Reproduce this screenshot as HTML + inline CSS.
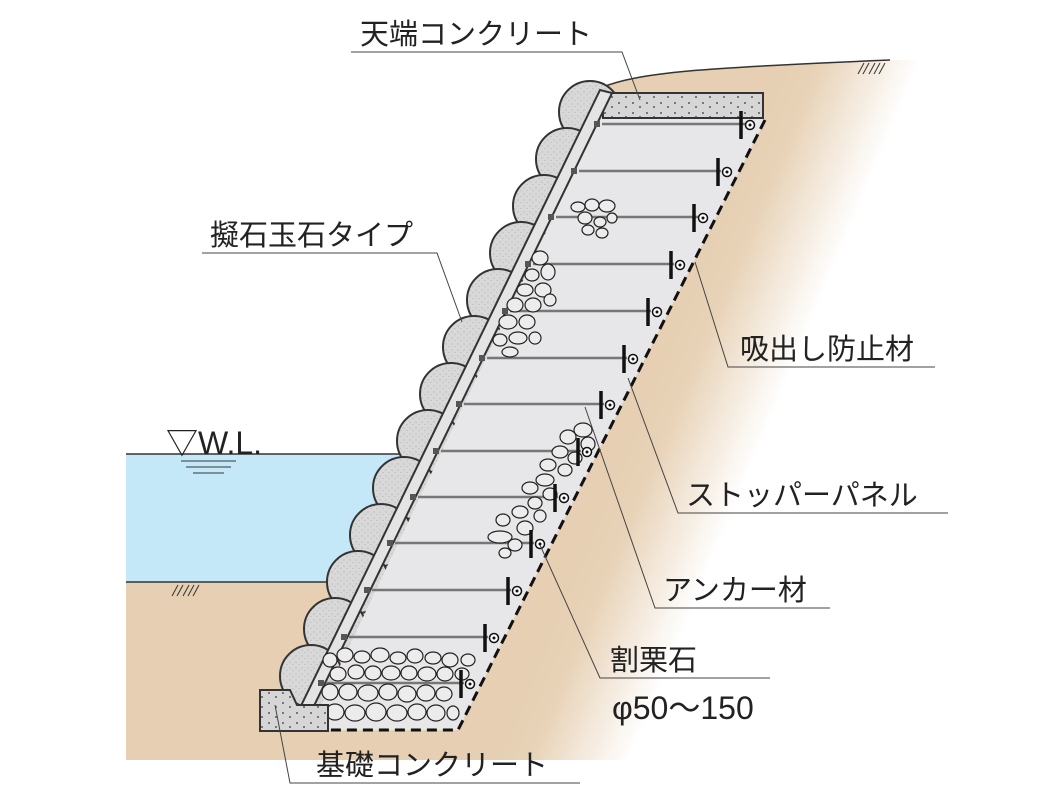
<!DOCTYPE html>
<html><head><meta charset="utf-8"><style>
html,body{margin:0;padding:0;background:#fff;}
svg{display:block;}
text{font-family:"Liberation Sans","Noto Sans CJK JP",sans-serif;fill:#222;}
</style></head><body>
<svg width="1061" height="805" viewBox="0 0 1061 805" xmlns="http://www.w3.org/2000/svg">
<defs>
<linearGradient id="soil" gradientUnits="userSpaceOnUse" x1="650" y1="373" x2="770" y2="423">
<stop offset="0" stop-color="#e6cfb2"/><stop offset="0.3" stop-color="#e8d3b8"/><stop offset="1" stop-color="#ffffff"/>
</linearGradient>
<pattern id="dots" width="14" height="10" patternUnits="userSpaceOnUse">
<rect width="14" height="10" fill="#d6d6d6"/>
<circle cx="3" cy="3" r="0.9" fill="#333"/><circle cx="10" cy="7" r="0.9" fill="#333"/>
</pattern>
<pattern id="spk" width="6" height="6" patternUnits="userSpaceOnUse">
<rect width="6" height="6" fill="#d8d8d8"/><circle cx="2" cy="2" r="0.5" fill="#999"/><circle cx="5" cy="4.5" r="0.5" fill="#aaa"/>
</pattern>
</defs>
<path d="M126,582 L420,582 L600,88 C640,72 700,68 890,60 L1061,60 L1061,760 L126,760 Z" fill="url(#soil)"/>
<path d="M600,88 C640,72 700,68 890,60" fill="none" stroke="#333" stroke-width="1.5"/>
<rect x="126" y="454" width="300" height="128" fill="#c5e8f8"/>
<line x1="126" y1="454" x2="420" y2="454" stroke="#333" stroke-width="1.5"/>
<line x1="126" y1="582" x2="330" y2="582" stroke="#333" stroke-width="1.5"/>
<line x1="181" y1="461" x2="236" y2="461" stroke="#333" stroke-width="1"/>
<line x1="186" y1="467" x2="231" y2="467" stroke="#333" stroke-width="1"/>
<line x1="193" y1="473" x2="224" y2="473" stroke="#333" stroke-width="1"/>
<g stroke="#333" stroke-width="1">
<line x1="172" y1="596" x2="178" y2="585"/><line x1="177" y1="596" x2="183" y2="585"/><line x1="183" y1="596" x2="189" y2="585"/><line x1="188" y1="596" x2="194" y2="585"/><line x1="193" y1="596" x2="199" y2="585"/>
<line x1="858" y1="74" x2="864" y2="63"/><line x1="863" y1="74" x2="869" y2="63"/><line x1="869" y1="74" x2="875" y2="63"/><line x1="874" y1="74" x2="880" y2="63"/><line x1="879" y1="74" x2="885" y2="63"/>
</g>
<text x="166" y="454" font-size="32">▽W.L.</text>
<g fill="url(#spk)" stroke="#333" stroke-width="2">
<circle cx="590" cy="112" r="31"/><circle cx="567" cy="159" r="31"/><circle cx="544" cy="206" r="31"/><circle cx="521" cy="253" r="31"/><circle cx="498" cy="300" r="31"/><circle cx="474" cy="347" r="31"/><circle cx="451" cy="394" r="31"/><circle cx="428" cy="441" r="31"/><circle cx="404" cy="488" r="31"/><circle cx="381" cy="535" r="31"/><circle cx="358" cy="582" r="31"/><circle cx="335" cy="629" r="31"/><circle cx="311" cy="676" r="31"/>
</g>
<polygon points="612,93 765,120 458,730 310,730 318,712" fill="#e7e7e9"/>
<rect x="603" y="93" width="160" height="25" fill="url(#dots)" stroke="#333" stroke-width="2"/>
<polygon points="600,90 612,93 310,714 298,712" fill="#e4e4e4" stroke="#333" stroke-width="2"/>
<g stroke="#777" stroke-width="2.5">
<line x1="602" y1="124" x2="745" y2="124"/><line x1="579" y1="171" x2="721" y2="171"/><line x1="556" y1="217" x2="698" y2="217"/><line x1="533" y1="264" x2="674" y2="264"/><line x1="510" y1="311" x2="651" y2="311"/><line x1="487" y1="358" x2="627" y2="358"/><line x1="464" y1="404" x2="604" y2="404"/><line x1="441" y1="451" x2="581" y2="451"/><line x1="418" y1="497" x2="558" y2="497"/><line x1="395" y1="543" x2="534" y2="543"/><line x1="372" y1="590" x2="511" y2="590"/><line x1="349" y1="637" x2="488" y2="637"/><line x1="326" y1="683" x2="464" y2="683"/>
</g>
<g fill="#ececec" stroke="#222" stroke-width="1.2">
<ellipse cx="578" cy="207" rx="7" ry="5"/><ellipse cx="592" cy="205" rx="7" ry="6"/><ellipse cx="607" cy="206" rx="8" ry="6"/><ellipse cx="585" cy="218" rx="7" ry="6"/><ellipse cx="600" cy="222" rx="6" ry="5"/><ellipse cx="612" cy="218" rx="5" ry="5"/><ellipse cx="588" cy="230" rx="6" ry="5"/><ellipse cx="602" cy="233" rx="6" ry="5"/>
<ellipse cx="540" cy="258" rx="8" ry="7"/><ellipse cx="548" cy="272" rx="7" ry="8"/><ellipse cx="532" cy="275" rx="7" ry="6"/><ellipse cx="525" cy="290" rx="8" ry="6"/><ellipse cx="543" cy="290" rx="8" ry="7"/><ellipse cx="515" cy="305" rx="8" ry="7"/><ellipse cx="533" cy="305" rx="8" ry="7"/><ellipse cx="550" cy="300" rx="6" ry="6"/><ellipse cx="508" cy="322" rx="9" ry="7"/><ellipse cx="527" cy="322" rx="8" ry="7"/><ellipse cx="518" cy="338" rx="9" ry="6"/><ellipse cx="500" cy="340" rx="7" ry="6"/><ellipse cx="535" cy="338" rx="6" ry="6"/><ellipse cx="510" cy="352" rx="8" ry="5"/>
<ellipse cx="583" cy="430" rx="9" ry="7"/><ellipse cx="568" cy="437" rx="8" ry="7"/><ellipse cx="588" cy="444" rx="7" ry="7"/><ellipse cx="560" cy="452" rx="8" ry="6"/><ellipse cx="575" cy="458" rx="7" ry="6"/><ellipse cx="548" cy="465" rx="8" ry="6"/><ellipse cx="565" cy="470" rx="7" ry="6"/><ellipse cx="545" cy="480" rx="9" ry="6"/><ellipse cx="530" cy="488" rx="8" ry="6"/><ellipse cx="550" cy="494" rx="7" ry="6"/><ellipse cx="535" cy="503" rx="7" ry="6"/><ellipse cx="520" cy="512" rx="8" ry="6"/><ellipse cx="540" cy="516" rx="6" ry="6"/><ellipse cx="503" cy="520" rx="7" ry="6"/><ellipse cx="525" cy="528" rx="8" ry="7"/><ellipse cx="500" cy="537" rx="12" ry="6"/><ellipse cx="515" cy="545" rx="7" ry="6"/><ellipse cx="505" cy="553" rx="6" ry="5"/>
<ellipse cx="330" cy="660" rx="7" ry="7"/><ellipse cx="345" cy="655" rx="8" ry="7"/><ellipse cx="362" cy="657" rx="8" ry="6"/><ellipse cx="380" cy="655" rx="9" ry="7"/><ellipse cx="398" cy="658" rx="8" ry="6"/><ellipse cx="415" cy="656" rx="8" ry="7"/><ellipse cx="433" cy="658" rx="8" ry="6"/><ellipse cx="450" cy="660" rx="8" ry="7"/><ellipse cx="468" cy="660" rx="7" ry="6"/>
<ellipse cx="338" cy="674" rx="8" ry="7"/><ellipse cx="356" cy="672" rx="8" ry="7"/><ellipse cx="373" cy="673" rx="8" ry="7"/><ellipse cx="391" cy="673" rx="9" ry="7"/><ellipse cx="409" cy="673" rx="8" ry="7"/><ellipse cx="427" cy="674" rx="9" ry="7"/><ellipse cx="445" cy="674" rx="8" ry="7"/><ellipse cx="462" cy="674" rx="7" ry="6"/>
<ellipse cx="330" cy="692" rx="8" ry="8"/><ellipse cx="348" cy="692" rx="9" ry="8"/><ellipse cx="368" cy="693" rx="10" ry="8"/><ellipse cx="388" cy="692" rx="9" ry="8"/><ellipse cx="407" cy="694" rx="9" ry="8"/><ellipse cx="426" cy="693" rx="9" ry="8"/><ellipse cx="444" cy="694" rx="8" ry="7"/>
<ellipse cx="335" cy="712" rx="9" ry="8"/><ellipse cx="355" cy="713" rx="10" ry="8"/><ellipse cx="376" cy="712" rx="10" ry="9"/><ellipse cx="397" cy="713" rx="10" ry="8"/><ellipse cx="417" cy="712" rx="9" ry="8"/><ellipse cx="436" cy="713" rx="9" ry="8"/><ellipse cx="453" cy="713" rx="6" ry="7"/>
</g>
<g fill="#555">
<rect x="594" y="121" width="6" height="6"/><rect x="571" y="168" width="6" height="6"/><rect x="548" y="214" width="6" height="6"/><rect x="525" y="261" width="6" height="6"/><rect x="502" y="308" width="6" height="6"/><rect x="479" y="355" width="6" height="6"/><rect x="456" y="401" width="6" height="6"/><rect x="433" y="448" width="6" height="6"/><rect x="410" y="494" width="6" height="6"/><rect x="387" y="540" width="6" height="6"/><rect x="364" y="587" width="6" height="6"/><rect x="341" y="634" width="6" height="6"/><rect x="318" y="680" width="6" height="6"/>
</g>
<g stroke="#111" stroke-width="3.5">
<line x1="741" y1="111" x2="741" y2="139"/><line x1="718" y1="158" x2="718" y2="186"/><line x1="694" y1="204" x2="694" y2="232"/><line x1="671" y1="251" x2="671" y2="279"/><line x1="648" y1="298" x2="648" y2="326"/><line x1="624" y1="345" x2="624" y2="373"/><line x1="601" y1="391" x2="601" y2="419"/><line x1="578" y1="438" x2="578" y2="466"/><line x1="555" y1="484" x2="555" y2="512"/><line x1="531" y1="530" x2="531" y2="558"/><line x1="508" y1="577" x2="508" y2="605"/><line x1="485" y1="624" x2="485" y2="652"/><line x1="461" y1="670" x2="461" y2="698"/>
</g>
<g fill="#fff" stroke="#111" stroke-width="1.5">
<circle cx="750" cy="125" r="4.5"/><circle cx="727" cy="172" r="4.5"/><circle cx="703" cy="218" r="4.5"/><circle cx="680" cy="265" r="4.5"/><circle cx="657" cy="312" r="4.5"/><circle cx="633" cy="359" r="4.5"/><circle cx="610" cy="405" r="4.5"/><circle cx="587" cy="452" r="4.5"/><circle cx="564" cy="498" r="4.5"/><circle cx="540" cy="544" r="4.5"/><circle cx="517" cy="591" r="4.5"/><circle cx="494" cy="638" r="4.5"/><circle cx="470" cy="684" r="4.5"/>
</g>
<g fill="#111">
<circle cx="750" cy="125" r="1.5"/><circle cx="727" cy="172" r="1.5"/><circle cx="703" cy="218" r="1.5"/><circle cx="680" cy="265" r="1.5"/><circle cx="657" cy="312" r="1.5"/><circle cx="633" cy="359" r="1.5"/><circle cx="610" cy="405" r="1.5"/><circle cx="587" cy="452" r="1.5"/><circle cx="564" cy="498" r="1.5"/><circle cx="540" cy="544" r="1.5"/><circle cx="517" cy="591" r="1.5"/><circle cx="494" cy="638" r="1.5"/><circle cx="470" cy="684" r="1.5"/>
</g>
<path d="M765,120 L458,730 L310,730" fill="none" stroke="#111" stroke-width="3" stroke-dasharray="10,6"/>
<path d="M260,690 L290,690 L297,705 L328,705 L328,731 L260,731 Z" fill="url(#dots)" stroke="#333" stroke-width="2"/>
<g stroke="#444" stroke-width="1" fill="none">
<path d="M351,52 L622,52 L640,100"/>
<path d="M202,253 L437,253 L462,322"/>
<path d="M935,367 L728,367 L695,262"/>
<path d="M948,513 L678,513 L628,378"/>
<path d="M830,608 L655,608 L585,407"/>
<path d="M770,678 L600,678 L540,545"/>
<path d="M580,783 L290,783 L275,705"/>
</g>
<g font-size="29">
<text x="360" y="44">天端コンクリート</text>
<text x="210" y="245">擬石玉石タイプ</text>
<text x="740" y="359">吸出し防止材</text>
<text x="686" y="505">ストッパーパネル</text>
<text x="663" y="600">アンカー材</text>
<text x="610" y="670">割栗石</text>
<text x="612" y="719" font-size="32">φ50〜150</text>
<text x="316" y="775">基礎コンクリート</text>
</g>
</svg>
</body></html>
